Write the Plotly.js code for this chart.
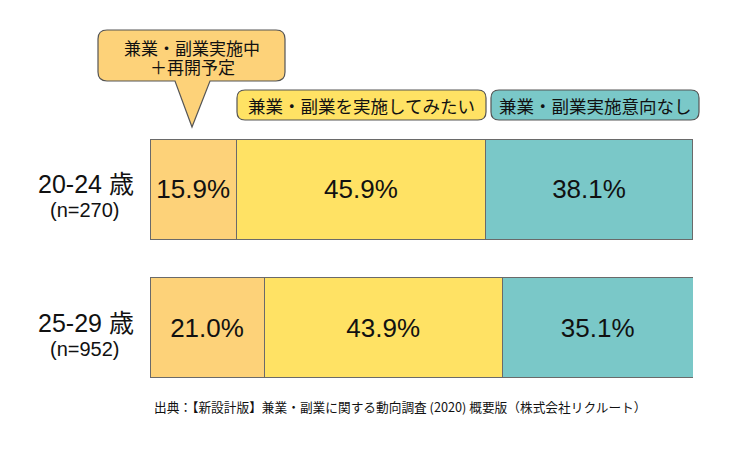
<!DOCTYPE html>
<html>
<head>
<meta charset="utf-8">
<script src="https://cdn.plot.ly/plotly-3.0.1.min.js"></script>
<style>html,body{margin:0;padding:0;background:#fff;}#chart{width:750px;height:450px;}</style>
</head>
<body>
<div id="chart"></div>
<script>
const ageGroups = ['20-24 歳', '25-29 歳'];
const sampleSizes = ['(n=270)', '(n=952)'];
const seriesNames = ['兼業・副業実施中<br>＋再開予定', '兼業・副業を実施してみたい', '兼業・副業実施意向なし'];
const activeOrPlanned = [15.9, 21.0];
const wantToTry = [45.9, 43.9];
const noIntention = [38.1, 35.1];
const sourceNote = '出典：【新設計版】兼業・副業に関する動向調査 (2020) 概要版（株式会社リクルート）';

const colors = ['#FDD279', '#FFE264', '#7AC8C8'];
const FONT = 'Liberation Sans, Arial, Noto Sans CJK JP, sans-serif';
const JFONT = 'Noto Sans CJK JP, sans-serif';

const W = 750, H = 450;
const M = {l: 150, r: 57, t: 120, b: 53};
const PW = W - M.l - M.r, PH = H - M.t - M.b;
const X = px => (px - M.l) / PW;
const Y = py => (H - M.b - py) / PH;

function roundRect(x0, y0, x1, y1, r) {
  return `M${X(x0 + r)},${Y(y0)} L${X(x1 - r)},${Y(y0)} Q${X(x1)},${Y(y0)} ${X(x1)},${Y(y0 + r)} ` +
    `L${X(x1)},${Y(y1 - r)} Q${X(x1)},${Y(y1)} ${X(x1 - r)},${Y(y1)} ` +
    `L${X(x0 + r)},${Y(y1)} Q${X(x0)},${Y(y1)} ${X(x0)},${Y(y1 - r)} ` +
    `L${X(x0)},${Y(y0 + r)} Q${X(x0)},${Y(y0)} ${X(x0 + r)},${Y(y0)} Z`;
}
function bubble(x0, y0, x1, y1, r, tl, tr, tx, ty) {
  return `M${X(x0 + r)},${Y(y0)} L${X(x1 - r)},${Y(y0)} Q${X(x1)},${Y(y0)} ${X(x1)},${Y(y0 + r)} ` +
    `L${X(x1)},${Y(y1 - r)} Q${X(x1)},${Y(y1)} ${X(x1 - r)},${Y(y1)} ` +
    `L${X(tr)},${Y(y1)} L${X(tx)},${Y(ty)} L${X(tl)},${Y(y1)} ` +
    `L${X(x0 + r)},${Y(y1)} Q${X(x0)},${Y(y1)} ${X(x0)},${Y(y1 - r)} ` +
    `L${X(x0)},${Y(y0 + r)} Q${X(x0)},${Y(y0)} ${X(x0 + r)},${Y(y0)} Z`;
}

const seriesValues = [activeOrPlanned, wantToTry, noIntention];
const traces = seriesValues.map((vals, i) => ({
  type: 'bar',
  orientation: 'h',
  name: seriesNames[i],
  y: ageGroups,
  x: vals,
  marker: {color: colors[i], line: {color: '#6a6a6a', width: 1}},
  texttemplate: '%{x:.1f}%',
  textposition: 'inside',
  insidetextanchor: 'middle',
  constraintext: 'none',
  textangle: 0,
  textfont: {family: FONT, size: 26, color: '#111'},
  hoverinfo: 'none'
}));

const annotations = [];
ageGroups.forEach((g, i) => {
  annotations.push({xref: 'paper', yref: 'y', x: X(86), y: g, xanchor: 'center', yanchor: 'middle',
    yshift: 5, text: g, showarrow: false, font: {family: FONT, size: 25, color: '#111'}});
  annotations.push({xref: 'paper', yref: 'y', x: X(85), y: g, xanchor: 'center', yanchor: 'middle',
    yshift: -21, text: sampleSizes[i], showarrow: false, font: {family: FONT, size: 20, color: '#111'}});
});
const bubbleLines = seriesNames[0].split('<br>');
annotations.push({xref: 'paper', yref: 'paper', x: X(192), y: Y(47), xanchor: 'center', yanchor: 'middle',
  text: bubbleLines[0], showarrow: false, font: {family: JFONT, size: 17, color: '#111'}});
annotations.push({xref: 'paper', yref: 'paper', x: X(192), y: Y(67), xanchor: 'center', yanchor: 'middle',
  text: bubbleLines[1], showarrow: false, font: {family: JFONT, size: 17, color: '#111'}});
annotations.push({xref: 'paper', yref: 'paper', x: X(361.5), y: Y(105.5), xanchor: 'center', yanchor: 'middle',
  text: seriesNames[1], showarrow: false, font: {family: JFONT, size: 17.5, color: '#111'}});
annotations.push({xref: 'paper', yref: 'paper', x: X(595), y: Y(105.5), xanchor: 'center', yanchor: 'middle',
  text: seriesNames[2], showarrow: false, font: {family: JFONT, size: 17.5, color: '#111'}});
annotations.push({xref: 'paper', yref: 'paper', x: X(152), y: Y(406), xanchor: 'left', yanchor: 'middle',
  text: sourceNote, showarrow: false, font: {family: JFONT, size: 12.7, color: '#111'}});

const shapes = [
  {type: 'path', xref: 'paper', yref: 'paper', path: bubble(98, 30, 285, 81, 9, 175, 210, 192, 127),
    fillcolor: colors[0], line: {color: '#555', width: 1.2}, layer: 'above'},
  {type: 'path', xref: 'paper', yref: 'paper', path: roundRect(237, 90, 486, 120, 8),
    fillcolor: colors[1], line: {color: '#555', width: 1.2}, layer: 'above'},
  {type: 'path', xref: 'paper', yref: 'paper', path: roundRect(491, 90, 699, 120, 8),
    fillcolor: colors[2], line: {color: '#555', width: 1.2}, layer: 'above'}
];

const layout = {
  width: W, height: H,
  margin: M,
  paper_bgcolor: '#fff', plot_bgcolor: '#fff',
  barmode: 'stack',
  bargap: 0.278,
  showlegend: false,
  xaxis: {range: [0, 100], visible: false, fixedrange: true},
  yaxis: {autorange: 'reversed', showticklabels: false, showgrid: false, zeroline: false, showline: false, ticks: ''},
  annotations: annotations,
  shapes: shapes,
  font: {family: FONT}
};

Plotly.newPlot('chart', traces, layout, {displayModeBar: false, staticPlot: true});
</script>
</body>
</html>
